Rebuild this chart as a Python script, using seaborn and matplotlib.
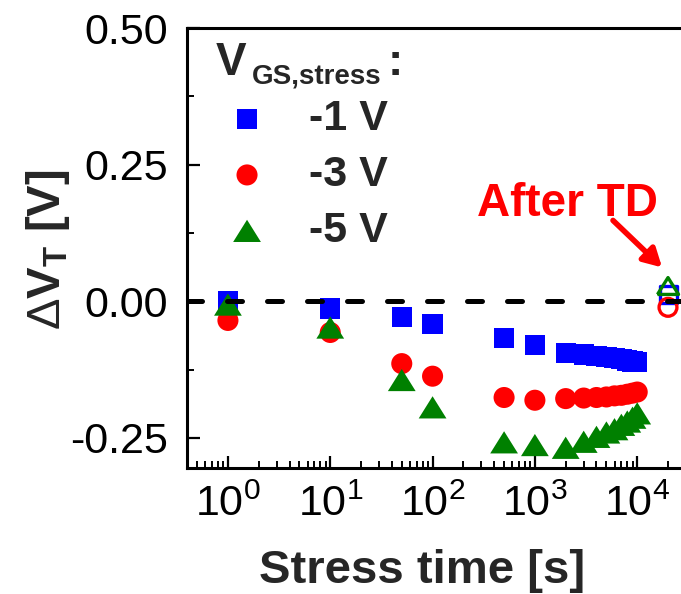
import numpy as np
import pandas as pd
import matplotlib
matplotlib.use("Agg")
import matplotlib.pyplot as plt
from matplotlib.ticker import MultipleLocator, FormatStrFormatter, LogLocator
import seaborn as sns

# Stress times [s] and threshold-voltage shifts [V]
stress_time = [1, 10, 50, 100, 500, 1000, 2000, 3000, 4000, 5000,
               6000, 7000, 8000, 9000, 10000]
dvt_m1V = [0.000, -0.013, -0.029, -0.041, -0.067, -0.080, -0.094, -0.097,
           -0.100, -0.102, -0.104, -0.106, -0.108, -0.110, -0.111]
dvt_m3V = [-0.035, -0.057, -0.114, -0.137, -0.176, -0.181, -0.178, -0.177,
           -0.176, -0.175, -0.173, -0.172, -0.170, -0.168, -0.166]
dvt_m5V = [-0.006, -0.048, -0.144, -0.194, -0.258, -0.263, -0.268, -0.257,
           -0.248, -0.240, -0.234, -0.226, -0.220, -0.213, -0.205]

# Values after thermal detrapping (TD)
td_time = [20000]
td_m1V = [0.012]
td_m3V = [-0.011]
td_m5V = [0.028]

bias_labels = ["-1 V", "-3 V", "-5 V"]
colors = ["#0000FF", "#FF0000", "#008000"]

sns.set_theme(style="ticks")
plt.rcParams["font.family"] = ["Liberation Sans", "DejaVu Sans"]
plt.rcParams["mathtext.fontset"] = "custom"
plt.rcParams["mathtext.rm"] = "Liberation Sans"
plt.rcParams["mathtext.bf"] = "Liberation Sans:bold"
plt.rcParams["mathtext.it"] = "Liberation Sans:italic"
plt.rcParams["axes.unicode_minus"] = False

fig = plt.figure(figsize=(6.81, 5.94), dpi=100)
ax = fig.add_axes([0.2746, 0.2121, 0.7254, 0.7407])

# closed, slightly flattened up-triangle
tri = [(-1.0, -0.8), (1.0, -0.8), (0.0, 0.8), (-1.0, -0.8)]
markers = ["s", "o", tri]
fill_sizes = [215, 230, 400]
open_sizes = [150, 165, 230]

series = [dvt_m1V, dvt_m3V, dvt_m5V]
td_series = [td_m1V, td_m3V, td_m5V]

handles = []
for vals, tdv, lab, col, mk, sf, so in zip(series, td_series, bias_labels,
                                            colors, markers, fill_sizes, open_sizes):
    df = pd.DataFrame({"t": stress_time, "dvt": vals})
    sns.scatterplot(data=df, x="t", y="dvt", ax=ax, color=col, marker=mk,
                    s=sf, linewidth=0, edgecolor="none", legend=False,
                    zorder=2)
    handles.append(ax.collections[-1])
    dtd = pd.DataFrame({"t": td_time, "dvt": tdv})
    sns.scatterplot(data=dtd, x="t", y="dvt", ax=ax, color=col, marker=mk,
                    s=so, facecolors="none", edgecolor=col, linewidth=2.4,
                    legend=False, zorder=2)

ax.axhline(0, color="black", lw=3.6, linestyle=(0, (3, 5)),
           dash_capstyle="round", zorder=3)

ax.set_xscale("log")
ax.set_xlim(10 ** -0.4, 10 ** 4.428)
ax.set_ylim(-0.305, 0.5)
ax.xaxis.set_major_locator(LogLocator(base=10, numticks=10))
ax.xaxis.set_minor_locator(LogLocator(base=10, subs=np.arange(2, 10), numticks=20))
ax.yaxis.set_major_locator(MultipleLocator(0.25))
ax.yaxis.set_minor_locator(MultipleLocator(0.125))
ax.yaxis.set_major_formatter(FormatStrFormatter("%.2f"))

for s in ["left", "bottom", "top"]:
    ax.spines[s].set_linewidth(2.2)
    ax.spines[s].set_color("black")
ax.spines["right"].set_visible(False)

ax.tick_params(axis="both", which="major", direction="in", length=9,
               width=1.6, color="black", labelsize=31, labelcolor="black")
ax.tick_params(axis="both", which="minor", direction="in", length=5,
               width=1.4, color="black")
ax.tick_params(axis="x", which="major", pad=12)
ax.tick_params(axis="y", which="major", pad=14)
ax.tick_params(top=False, right=False, which="both")

ax.set_xlabel("Stress time [s]", fontsize=34, fontweight="bold")
ax.xaxis.set_label_coords(0.476, -0.185)
ax.set_ylabel(r"$\Delta\mathbf{V}_\mathbf{T}$ [V]", fontsize=34,
              fontweight="bold")
ax.yaxis.set_label_coords(-0.232, 0.497)

ax.set_facecolor("white")
fig.patch.set_facecolor("white")

# Legend title
ax.text(0.058, 0.893, "V", transform=ax.transAxes, fontsize=33,
        fontweight="bold", va="baseline", ha="left")
ax.text(0.1316, 0.875, "GS,stress", transform=ax.transAxes, fontsize=20,
        fontweight="bold", va="baseline", ha="left")
ax.text(0.406, 0.893, ":", transform=ax.transAxes, fontsize=33,
        fontweight="bold", va="baseline", ha="left")

ax.legend(handles, bias_labels, loc="upper left", bbox_to_anchor=(0.091, 0.838),
          frameon=False, prop={"weight": "bold", "size": 31},
          handlelength=0.7, handletextpad=1.1, labelspacing=0.37,
          borderpad=0, borderaxespad=0)

# After thermal detrapping annotation
ax.text(272, 0.157, "After TD", color="#FF0000", fontsize=33,
        fontweight="bold", va="baseline", ha="left")
ax.annotate("", xy=(1.75e4, 0.062), xytext=(5.8e3, 0.148),
            arrowprops=dict(arrowstyle="-|>,head_length=0.9,head_width=0.5",
                            color="#FF0000", lw=4, shrinkA=0, shrinkB=0))

fig.savefig("out.png", dpi=100, facecolor="white")
